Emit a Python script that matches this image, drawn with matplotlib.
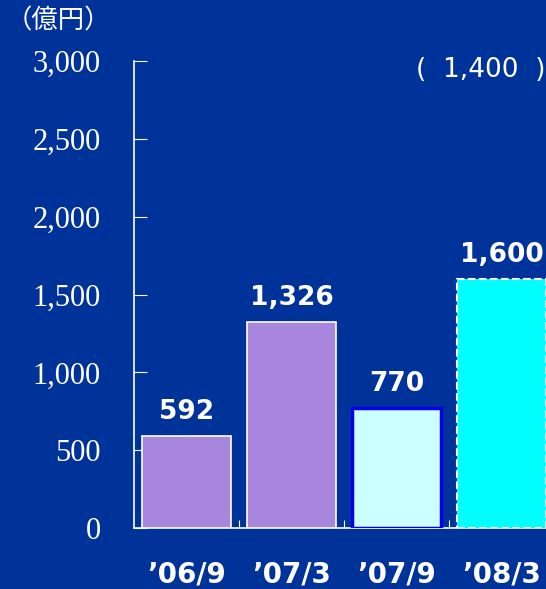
import matplotlib.pyplot as plt
from matplotlib.ticker import FuncFormatter

periods = ["’06/9", "’07/3", "’07/9", "’08/3"]
values = [592, 1326, 770, 1600]
value_labels = ["592", "1,326", "770", "1,600"]
fills = ["#A986DE", "#A986DE", "#CCFFFF", "#00FFFF"]
edges = ["white", "white", "#0000EE", "white"]
edge_styles = ["solid", "solid", "solid", "dashed"]
edge_widths = [1.2, 1.2, 2.5, 1.5]
yticks = [0, 500, 1000, 1500, 2000, 2500, 3000]
note = "(  1,400  )"
unit = "（億円）"

bg = "#003399"
fig = plt.figure(figsize=(5.46, 5.89), dpi=100, facecolor=bg)
ax = fig.add_axes([134 / 546, 61 / 589, 420 / 546, 467 / 589])
ax.set_facecolor(bg)

x = list(range(len(values)))
for i in x:
    ax.bar(i, values[i], width=0.84, color=fills[i], edgecolor=edges[i],
           linestyle=edge_styles[i], linewidth=edge_widths[i], zorder=3)
    ax.text(i, values[i] + 70, value_labels[i], ha='center', va='bottom',
            color='white', fontsize=19, fontweight='bold', family='DejaVu Sans')

ax.set_xlim(-0.5, 3.5)
ax.set_ylim(0, 3000)
ax.set_yticks(yticks)
ax.yaxis.set_major_formatter(FuncFormatter(lambda v, p: f"{int(v):,}"))
for lab in ax.get_yticklabels():
    lab.set_family('Liberation Serif')
    lab.set_fontsize(22)
    lab.set_color('white')
ax.tick_params(axis='y', direction='in', length=9, color='white', pad=24)

ax.set_xticks([0.5, 1.5, 2.5])
ax.set_xticklabels([])
ax.tick_params(axis='x', direction='in', length=6, color='white')
for i, p in enumerate(periods):
    ax.text(i, -300, p, ha='center', va='center', color='white',
            fontsize=20, fontweight='bold', family='DejaVu Sans')

for s in ['top', 'right']:
    ax.spines[s].set_visible(False)
for s in ['left', 'bottom']:
    ax.spines[s].set_color('white')
    ax.spines[s].set_linewidth(1.2)

fig.text(6 / 546, 1 - 21 / 589, unit, ha='left', va='center', color='white',
         fontsize=19, family=['Noto Sans CJK JP', 'DejaVu Sans'])
fig.text(481 / 546, 1 - 70 / 589, note, ha='center', va='center', color='white',
         fontsize=19, family='DejaVu Sans')

fig.savefig("out.png", dpi=100, facecolor=bg)
